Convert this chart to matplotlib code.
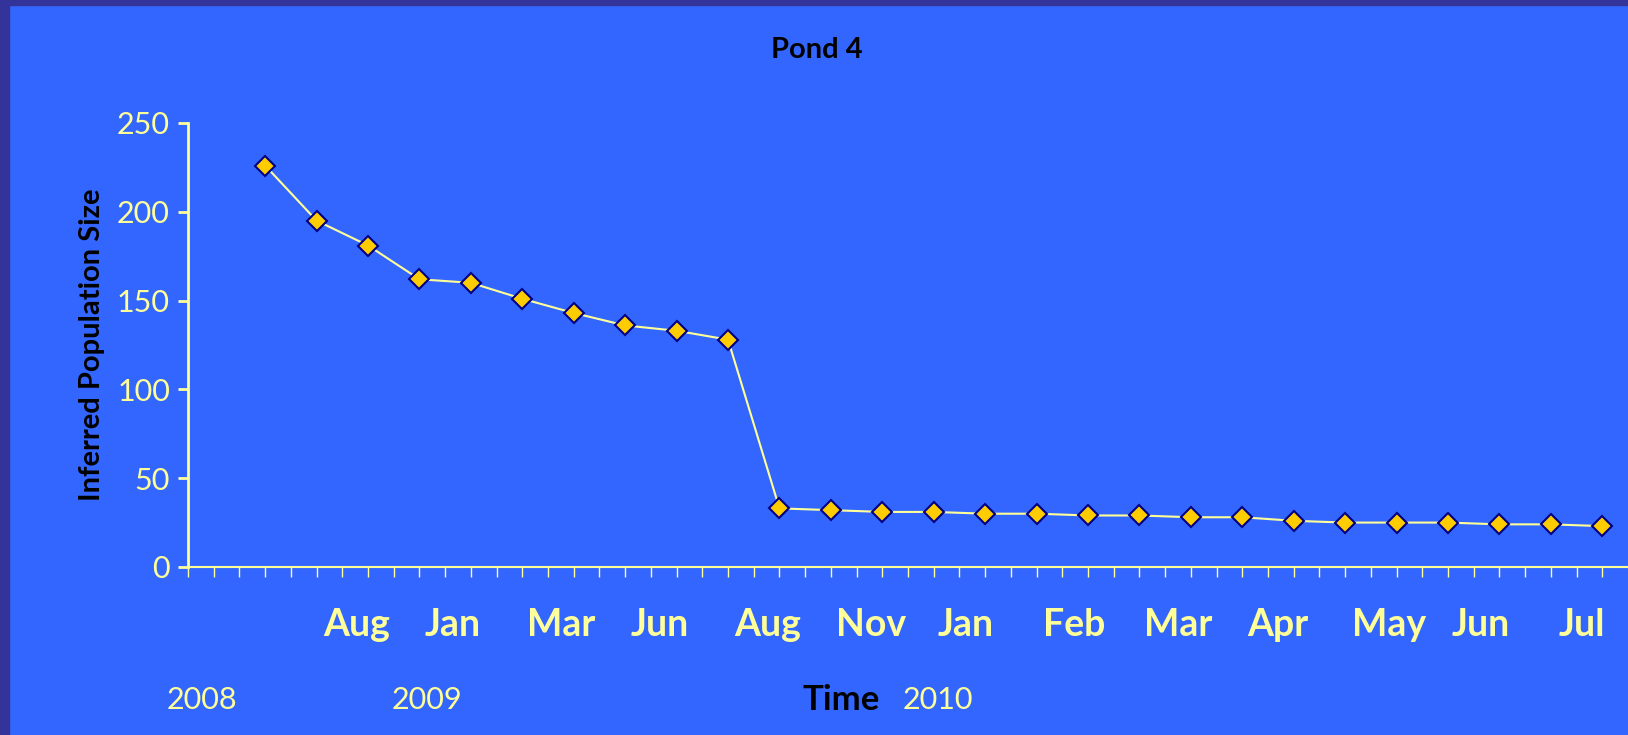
import matplotlib.pyplot as plt
from matplotlib.patches import Rectangle
import matplotlib.transforms as mtransforms

plt.rcParams['font.family'] = ['Lato', 'DejaVu Sans']

# inferred population size, one sample per survey
population = [226, 195, 181, 162, 160, 151, 143, 136, 133, 128,
              33, 32, 31, 31, 30, 30, 29, 29, 28, 28,
              26, 25, 25, 25, 24, 24, 23]
month_labels = ['Aug', 'Jan', 'Mar', 'Jun', 'Aug', 'Nov', 'Jan',
                'Feb', 'Mar', 'Apr', 'May', 'Jun', 'Jul']
month_pos = [3.28, 5.14, 7.26, 9.17, 11.27, 13.29, 15.13,
             17.23, 19.25, 21.19, 23.35, 25.14, 27.1]
year_labels = ['2008', '2009', '2010']
year_pos = [0.124, 0.262, 0.576]

bg = '#3366FF'
pale = '#FFFF99'

fig = plt.figure(figsize=(16.28, 7.35), dpi=100, facecolor=bg)
ax = fig.add_axes([0.1155, 0.2286, 0.8845, 0.6041])
ax.set_facecolor(bg)

x = [i + 1.5 for i in range(len(population))]
ax.plot(x, population, color=pale, lw=1.5, marker='D', ms=10.5,
        mfc='#FFCC00', mec='#000080', mew=1.5, zorder=3)

ax.set_xlim(0, 28)
ax.set_ylim(0, 250)
ax.set_yticks(range(0, 251, 50))
ax.set_xticks([i * 0.5 for i in range(56)])
ax.set_xticklabels([])

for side in ['top', 'right']:
    ax.spines[side].set_visible(False)
ax.spines['left'].set_color(pale)
ax.spines['left'].set_linewidth(2)
ax.spines['bottom'].set_color(pale)
ax.spines['bottom'].set_linewidth(1.5)
ax.tick_params(axis='y', colors=pale, length=7, width=2, pad=6, labelsize=22)
ax.tick_params(axis='x', colors=pale, length=7, width=1)
for lbl in ax.get_yticklabels():
    lbl.set_color(pale)

ax.set_ylabel('Inferred Population Size', fontsize=21, fontweight='bold',
              color='black')
ax.yaxis.set_label_coords(-0.058, 0.5)

# month names under the axis, year markers below them
trans = mtransforms.blended_transform_factory(ax.transData, fig.transFigure)
for lab, pos in zip(month_labels, month_pos):
    ax.text(pos, 0.1497, lab, transform=trans, ha='center', va='center',
            fontsize=27, fontweight='bold', color=pale)
for lab, pos in zip(year_labels, year_pos):
    fig.text(pos, 0.048, lab, ha='center', va='center', fontsize=22, color=pale)
fig.text(0.517, 0.048, 'Time', ha='center', va='center', fontsize=25,
         fontweight='bold', color='black')

fig.text(0.502, 0.932, 'Pond 4', ha='center', va='center', fontsize=21,
         fontweight='bold', color='black')

# dark slide border on the left and top
fig.patches.append(Rectangle((0, 0), 9 / 1628, 1, transform=fig.transFigure,
                             color='#333399', zorder=0))
fig.patches.append(Rectangle((0, 1 - 5 / 735), 1, 5 / 735,
                             transform=fig.transFigure, color='#333399', zorder=0))

fig.savefig('out.png', dpi=100, facecolor=bg)
